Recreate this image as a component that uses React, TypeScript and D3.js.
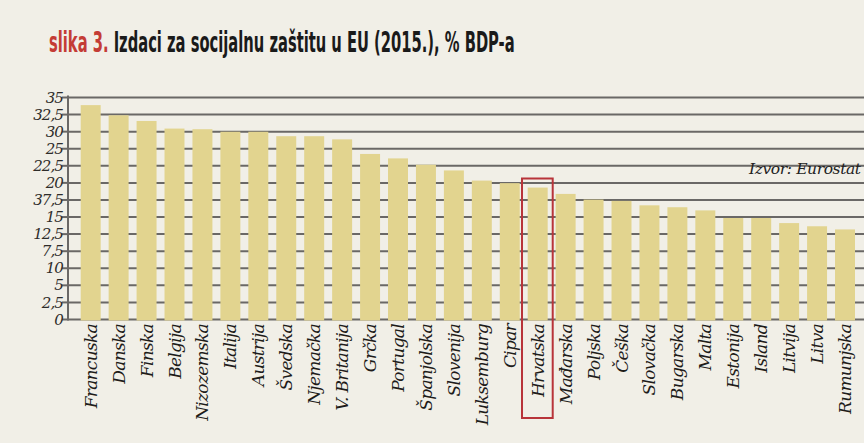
import * as d3 from "d3";
import { useLayoutEffect, useRef, useState } from "react";

const countries = [
  "Francuska", "Danska", "Finska", "Belgija", "Nizozemska", "Italija", "Austrija",
  "Švedska", "Njemačka", "V. Britanija", "Grčka", "Portugal", "Španjolska", "Slovenija",
  "Luksemburg", "Cipar", "Hrvatska", "Mađarska", "Poljska", "Češka", "Slovačka",
  "Bugarska", "Malta", "Estonija", "Island", "Litvija", "Litva", "Rumunjska",
];

const values = [
  33.8, 32.2, 31.3, 30.1, 30.0, 29.6, 29.6,
  28.9, 28.9, 28.4, 26.1, 25.4, 24.4, 23.5,
  21.9, 21.5, 20.8, 19.8, 18.9, 18.7, 18.0,
  17.7, 17.2, 16.0, 16.0, 15.2, 14.7, 14.2,
];

// labels as printed in the source, bottom to top (including its quirks);
// the printed axis has 14 even intervals between 0 and 35
const tickLabels = ["0", "2,5", "5", "10", "7,5", "12,5", "15", "37,5", "20", "22,5", "25", "30", "32,5", "35"];

const highlight = "Hrvatska";

const width = 864;
const height = 443;
const axisX = 68;
const titleFont = "'DejaVu Sans Condensed', 'Liberation Sans Narrow', sans-serif";

export default function App() {
  const titleRef = useRef<SVGTextElement>(null);
  const [titleScale, setTitleScale] = useState(1);

  useLayoutEffect(() => {
    if (titleRef.current) {
      const w = titleRef.current.getComputedTextLength();
      if (w > 0) setTitleScale(466 / w);
    }
  }, []);

  const y = d3.scaleLinear().domain([0, 35]).range([319.5, 97.5]);
  const x = d3
    .scaleBand()
    .domain(countries)
    .range([80.7, 855])
    .paddingInner(0.285)
    .paddingOuter(0);

  const ticks = tickLabels.map((label, i) => ({
    v: (35 * i) / (tickLabels.length - 1),
    label,
  }));

  const hx = x(highlight)!;

  return (
    <div>
      <style>{`body{margin:0;background:#f1efe7}`}</style>
      <svg width={width} height={height} style={{ display: "block" }}>
        <rect width={width} height={height} fill="#f1efe7" />
        <g transform={`translate(49,52) scale(${titleScale},1)`}>
          <text ref={titleRef} x={0} y={0} fontFamily={titleFont} fontWeight={700} fontSize={29}>
            <tspan fill="#c43c35">slika 3.</tspan>
            <tspan fill="#1a1a1a"> Izdaci za socijalnu zaštitu u EU (2015.), % BDP-a</tspan>
          </text>
        </g>

        {/* gridlines */}
        {ticks.map((t, i) => (
          <g key={i}>
            <line x1={axisX} x2={width} y1={y(t.v)} y2={y(t.v)} stroke="#6a6866" strokeWidth={2} />
            <line x1={axisX - 6} x2={axisX} y1={y(t.v)} y2={y(t.v)} stroke="#6a6866" strokeWidth={2} />
            <text x={axisX - 5} y={y(t.v)} dy="0.34em" textAnchor="end"
              fontFamily="'DejaVu Serif', serif" fontStyle="italic" fontSize={15}
              letterSpacing={-0.9} fill="#2e2c2a">
              {t.label}
            </text>
          </g>
        ))}
        <line x1={axisX} x2={axisX} y1={y(35) - 2} y2={y(0) + 1} stroke="#6a6866" strokeWidth={2} />

        <text x={749} y={174} fontFamily="'DejaVu Serif', serif" fontStyle="italic" fontSize={15.5}
          fill="#222" letterSpacing={-0.4}>
          Izvor: Eurostat
        </text>

        {countries.map((c, i) => (
          <rect key={c} x={x(c)} y={y(values[i])} width={x.bandwidth()} height={y(0) - y(values[i]) + 1}
            fill="#e2d48f" />
        ))}

        {countries.map((c) => (
          <text key={c} transform={`translate(${x(c)! + x.bandwidth() / 2 + 6},${324}) rotate(-90)`}
            textAnchor="end" fontFamily="'DejaVu Serif', serif" fontStyle="italic" fontSize={17}
            letterSpacing={-0.7} fill="#1e1c1a">
            {c}
          </text>
        ))}

        <rect x={hx - 5.7} y={178.5} width={30.7} height={239.5} fill="none" stroke="#b8343a" strokeWidth={2} />
      </svg>
    </div>
  );
}
